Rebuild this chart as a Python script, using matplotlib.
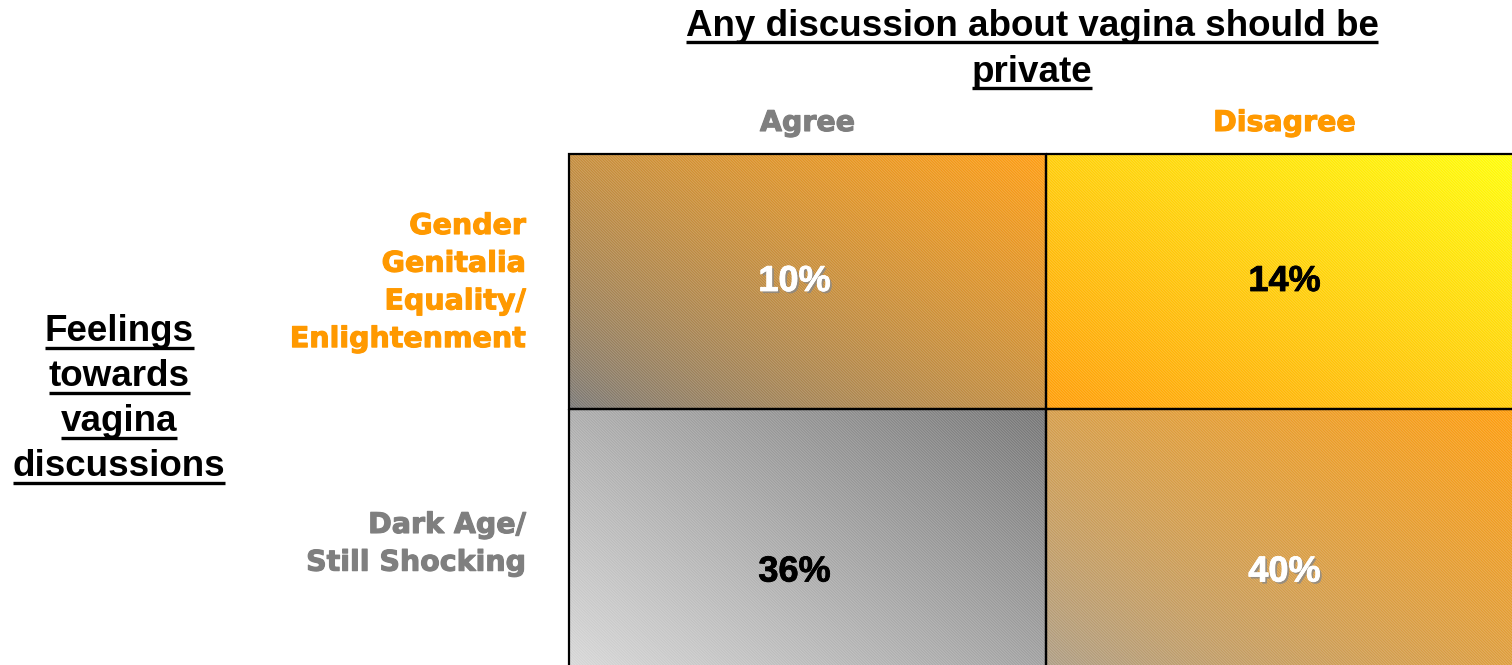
import numpy as np
import matplotlib
matplotlib.use("Agg")
from matplotlib import pyplot as plt
from matplotlib.patches import Rectangle
import matplotlib.patheffects as pe
from matplotlib.colors import to_rgb

# data
col_labels = ["Agree", "Disagree"]
row_labels = [["Gender", "Genitalia", "Equality/", "Enlightenment"], ["Dark Age/", "Still Shocking"]]
values = [[10, 14], [36, 40]]
title_lines = ["Any discussion about vagina should be", "private"]
side_lines = ["Feelings", "towards", "vagina", "discussions"]

ORANGE = "#FF9900"
GRAY = "#7F7F7F"
col_colors = [GRAY, ORANGE]
row_colors = [ORANGE, GRAY]
# gradient (bottom-left colour, top-right colour) per cell
cell_grad = [[("#747474", "#FF9A0A"), ("#FF9A00", "#FFFF00")],
             [("#E2E2E2", "#717171"), ("#9A9A9A", "#FF9A05")]]
value_colors = [["white", "black"], ["black", "white"]]

plt.rcParams["hatch.linewidth"] = 0.7

W, H = 1512, 665
fig = plt.figure(figsize=(W / 100, H / 100), dpi=100)
ax = fig.add_axes([0, 0, 1, 1])
ax.set_xlim(0, W)
ax.set_ylim(H, 0)
ax.axis("off")

xs = [569, 1046, 1523]
ys = [154, 409, 735]


def gradient(c0, c1, w, h, gamma=1.0):
    u = np.linspace(0, 1, w)[None, :]
    v = np.linspace(0, 1, h)[:, None]
    t = ((u + v) / 2) ** gamma
    t = t[::-1, :]
    a, b = np.array(to_rgb(c0)), np.array(to_rgb(c1))
    return a[None, None, :] * (1 - t[..., None]) + b[None, None, :] * t[..., None]


for i in range(2):
    for j in range(2):
        x0, x1 = xs[j], xs[j + 1]
        y0, y1 = ys[i], ys[i + 1]
        g = 0.8 if cell_grad[i][j][1].startswith("#FF9A") else 1.0
        img = gradient(*cell_grad[i][j], 200, 120, g)
        ax.imshow(img, extent=(x0, x1, y1, y0), aspect="auto", interpolation="bilinear", zorder=1)
        ax.add_patch(Rectangle((x0, y0), x1 - x0, y1 - y0, facecolor="none",
                               edgecolor=(1, 1, 1, 0.22), hatch="\\" * 12, lw=0, zorder=2))
        ax.add_patch(Rectangle((x0, y0), x1 - x0, y1 - y0, facecolor="none",
                               edgecolor="black", lw=1.6, zorder=3))
        cx = (x0 + x1) / 2 - (13 if j == 0 else 0)
        cy = (y0 + y1) / 2
        col = value_colors[i][j]
        effects = [pe.withStroke(linewidth=0.6, foreground=col)]
        if col == "white":
            effects = [pe.withSimplePatchShadow(offset=(1.5, -1.5), shadow_rgbFace="#888888", alpha=0.8),
                       pe.withStroke(linewidth=0.6, foreground=col)]
        ax.text(cx, cy, f"{values[i][j]}%", ha="center", va="center", color=col,
                fontsize=26, fontweight="bold", family="Liberation Sans", zorder=4,
                path_effects=effects)
ax.set_xlim(0, W)
ax.set_ylim(H, 0)

# column headers
for j, lab in enumerate(col_labels):
    ax.text((xs[j] + xs[j + 1]) / 2, 131, lab, ha="center", va="baseline",
            color=col_colors[j], fontsize=20.5, fontweight="bold", family="DejaVu Sans",
            path_effects=[pe.withStroke(linewidth=0.8, foreground=col_colors[j])])

# row labels
row_base = [234, 533]
for i, lines in enumerate(row_labels):
    for k, line in enumerate(lines):
        ax.text(526, row_base[i] + k * 37.7, line, ha="right", va="baseline",
                color=row_colors[i], fontsize=20.5, fontweight="bold", family="DejaVu Sans",
                path_effects=[pe.withStroke(linewidth=0.8, foreground=row_colors[i])])

# underlined titles
under = []
for k, line in enumerate(title_lines):
    t = ax.text(1032, 36 + k * 46, line, ha="center", va="baseline", color="black",
                fontsize=26.5, fontweight="bold", family="Liberation Sans")
    under.append((t, 36 + k * 46 + 6))
for k, line in enumerate(side_lines):
    t = ax.text(119, 341 + k * 45, line, ha="center", va="baseline", color="black",
                fontsize=26.5, fontweight="bold", family="Liberation Sans")
    under.append((t, 341 + k * 45 + 6.5))

fig.canvas.draw()
inv = ax.transData.inverted()
for t, uy in under:
    bb = t.get_window_extent()
    (xa, _), (xb, _) = inv.transform([[bb.x0, bb.y0], [bb.x1, bb.y1]])
    ax.plot([xa, xb], [uy, uy], color="black", lw=2.4, solid_capstyle="butt")

fig.savefig("out.png", dpi=100)
